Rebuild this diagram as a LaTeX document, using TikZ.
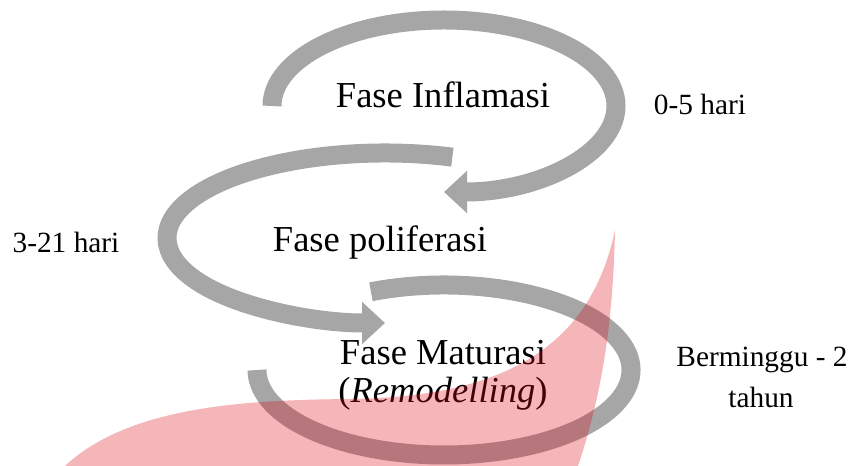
\documentclass[tikz,border=0pt]{standalone}
\usepackage{fontspec}
\setmainfont{Liberation Serif}
\usetikzlibrary{arrows.meta}
\definecolor{abu}{RGB}{166,166,166}
\definecolor{filigrane}{RGB}{222,12,28}
\tikzset{
    phasearc/.style={draw=abu, line width=0.38cm, line cap=butt},
    phasetip/.style={-{Triangle[width=0.82cm,length=0.46cm]}},
    grandtexte/.style={font=\fontsize{20.8}{25}\selectfont, anchor=base, inner sep=0pt},
    petittexte/.style={font=\fontsize{16.7}{20}\selectfont, anchor=base, inner sep=0pt},
  }
\begin{document}
\begin{tikzpicture}[x=0.02cm,y=0.02cm]
	%cadre 851 x 466
	%arc ellipse (C) ++(a:rx and ry) arc[start angle=a,end angle=b,x radius=rx,y radius=ry]
	\useasboundingbox (0,0) rectangle (851,466);
	\coordinate(C1) at (444,360);
	\coordinate(C2) at (385,228);
	\coordinate(C3) at (444,96);

	\draw[phasearc,phasetip] (C1) ++(180:172 and 86) arc[start angle=180,end angle=-90,x radius=172,y radius=86];
	\draw[phasearc,phasetip] (C2) ++(72:218 and 85) arc[start angle=72,end angle=270,x radius=218,y radius=85];
	\draw[phasearc] (C3) ++(113:187 and 85) arc[start angle=113,end angle=-180,x radius=187,y radius=85];

	\node[grandtexte](inflamasi) at (443,358) {Fase Inflamasi};
	\node[grandtexte](poliferasi) at (380,214) {Fase poliferasi};
	\node[grandtexte](maturasi) at (443,101) {Fase Maturasi};
	\node[grandtexte](remodel) at (443,63) {(\textit{Remodelling})};

	\node[petittexte](hari1) at (700,351) {0-5 hari};
	\node[petittexte](hari2) at (66,213) {3-21 hari};
	\node[petittexte](minggu) at (762,99) {Berminggu - 2};
	\node[petittexte](tahun) at (761,58) {tahun};

	\fill[filigrane,opacity=0.3] (65,0) .. controls (130,61) and (250,66) .. (350,67) .. controls (500,69) and (590,116) .. (615,236) .. controls (613,136) and (600,66) .. (578,0) -- cycle;
\end{tikzpicture}
\end{document}
